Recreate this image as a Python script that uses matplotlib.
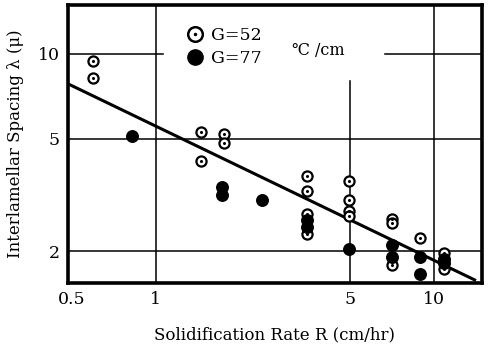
import matplotlib
matplotlib.use('Agg')
import matplotlib.pyplot as plt
from matplotlib.lines import Line2D
from matplotlib.legend_handler import HandlerTuple

plt.rcParams['font.family'] = ['DejaVu Serif', 'DejaVu Sans']

# G = 52 C/cm (open circles)
r52 = [0.593, 0.593, 1.45, 1.45, 1.76, 1.76,
       3.49, 3.49, 3.49, 3.49,
       4.95, 4.95, 4.95, 4.95,
       7.09, 7.09, 7.09, 8.90, 10.9, 10.9]
lam52 = [9.45, 8.22, 5.29, 4.17, 5.20, 4.83,
         3.69, 3.27, 2.71, 2.29,
         3.55, 3.02, 2.78, 2.67,
         2.59, 2.51, 1.79, 2.22, 1.97, 1.73]

# G = 77 C/cm (filled circles)
r77 = [0.82, 1.73, 1.73, 2.41, 3.49, 3.49, 4.95, 7.09, 7.09, 8.90, 8.90, 10.9, 10.9]
lam77 = [5.12, 3.36, 3.16, 3.04, 2.58, 2.44, 2.03, 2.10, 1.90, 1.90, 1.66, 1.875, 1.81]

# fitted line end points
fit_r = [0.483, 14.0]
fit_lam = [7.83, 1.58]

xticks = [0.5, 1, 5, 10]
xticklabels = ['0.5', '1', '5', '10']
yticks = [2, 5, 10]

fig = plt.figure(figsize=(4.88, 3.49), dpi=100)
ax = fig.add_axes([0.139, 0.189, 0.849, 0.797])
ax.set_xscale('log')
ax.set_yscale('log')
ax.set_xlim(0.483, 14.9)
ax.set_ylim(1.54, 14.9)

# partial grid lines (interrupted by the legend)
gl = dict(color='black', lw=1.1, zorder=1)
ax.axhline(10, xmax=0.229, **gl)
ax.axhline(10, xmin=0.766, **gl)
ax.axhline(5, **gl)
ax.axhline(2, **gl)
ax.axvline(1, **gl)
ax.axvline(5, ymax=0.727, **gl)
ax.axvline(10, **gl)

ax.plot(fit_r, fit_lam, color='black', lw=2.2, zorder=2)

ax.plot(r52, lam52, 'o', ms=7.3, mfc='white', mec='black', mew=1.6, ls='none', zorder=3)
ax.plot(r52, lam52, 'o', ms=1.2, color='black', ls='none', zorder=4)
ax.plot(r77, lam77, 'o', ms=8.3, color='black', ls='none', zorder=5)

ax.set_xticks(xticks)
ax.set_xticklabels(xticklabels)
ax.set_yticks(yticks)
ax.set_yticklabels([str(t) for t in yticks])
ax.minorticks_off()
ax.tick_params(length=0, labelsize=12.5, pad=6)

for s in ax.spines.values():
    s.set_linewidth(2.6)

ax.set_xlabel('Solidification Rate R (cm/hr)', fontsize=12, labelpad=13)
ax.set_ylabel('Interlamellar Spacing λ (μ)', fontsize=12, labelpad=10)

h_open = (Line2D([], [], marker='o', ms=10.5, mfc='white', mec='black', mew=1.8, ls='none'),
          Line2D([], [], marker='o', ms=1.5, color='black', ls='none'))
h_fill = Line2D([], [], marker='o', ms=11, color='black', ls='none')
ax.legend([h_open, h_fill], ['G=52', 'G=77'], handler_map={tuple: HandlerTuple(ndivide=1)},
          loc='upper left', bbox_to_anchor=(0.245, 0.975), frameon=False, fontsize=12.5,
          handletextpad=0.3, labelspacing=0.3, handlelength=1.2)
ax.text(0.54, 0.835, '℃ /cm', transform=ax.transAxes, fontsize=11.5, va='center')

fig.savefig('out.png', dpi=100)
